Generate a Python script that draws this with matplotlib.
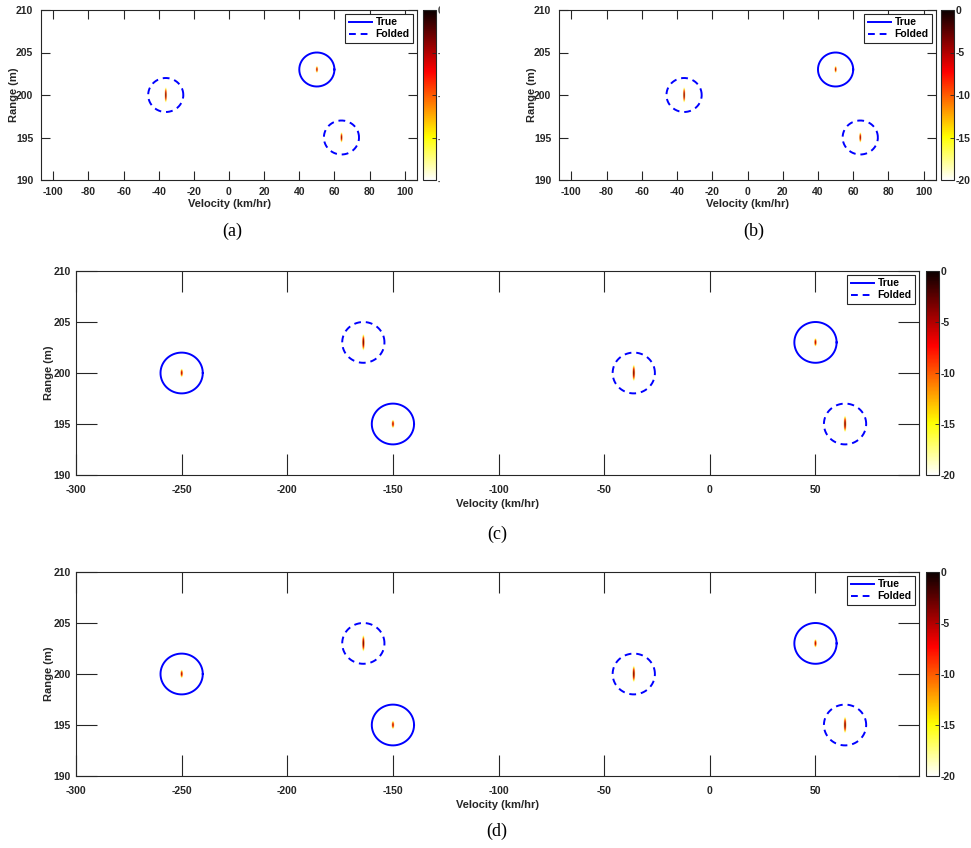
import numpy as np
import matplotlib
matplotlib.use('Agg')
import matplotlib.pyplot as plt
from matplotlib.lines import Line2D
from matplotlib.patches import Rectangle

plt.rcParams['font.family'] = ['Liberation Sans', 'DejaVu Sans']
plt.rcParams['axes.unicode_minus'] = False

# ---------------- data ----------------
# panels (a),(b)
true_v_ab = [50]
true_r_ab = [203]
true_pk_ab = [-4]
true_len_ab = [0.4]
fold_v_ab = [-36, 64]
fold_r_ab = [200, 195]
fold_pk_ab = [-2, -3]
fold_len_ab = [0.9, 0.6]

# panels (c),(d)
true_v_cd = [-250, -150, 50]
true_r_cd = [200, 195, 203]
true_pk_cd = [-4, -4, -4]
true_len_cd = [0.4, 0.4, 0.4]
fold_v_cd = [-164, -36, 64]
fold_r_cd = [203, 200, 195]
fold_pk_cd = [-2, -2, -2]
fold_len_cd = [0.8, 0.8, 0.8]

xticks_ab = [-100, -80, -60, -40, -20, 0, 20, 40, 60, 80, 100]
xticks_cd = [-300, -250, -200, -150, -100, -50, 0, 50]
yticks = [190, 195, 200, 205, 210]
cbar_ticks = [-20, -15, -10, -5, 0]
captions = ['(a)', '(b)', '(c)', '(d)']

W, H = 971, 848
fig = plt.figure(figsize=(W / 100, H / 100), dpi=100)
DARK = '#262626'


def px_rect(l, r, t, b):
    return [l / W, (H - b) / H, (r - l) / W, (b - t) / H]


def make_map(xlim, half_w, tv, tr, tp, tl, fv, fr, fp, fl):
    xs = np.arange(xlim[0], xlim[1], 0.08)
    ys = np.arange(190, 210, 0.02)
    X, Y = np.meshgrid(xs, ys)
    Z = np.full(X.shape, -40.0)
    for v, r, p, L in list(zip(tv, tr, tp, tl)) + list(zip(fv, fr, fp, fl)):
        d = ((X - v) / half_w) ** 2 + ((Y - r) / L) ** 2
        val = p - (p + 20) * d
        Z = np.maximum(Z, val)
    return xs, ys, Z


def ellipse(cx, cy, rx=10, ry=2):
    t = np.linspace(0, 2 * np.pi, 200)
    return cx + rx * np.cos(t), cy + ry * np.sin(t)


def panel(rect, crect, xlim, xticks, half_w, xpad, ypad, xlab_off,
          tv, tr, tp, tl, fv, fr, fp, fl):
    ax = fig.add_axes(px_rect(*rect))
    cax = fig.add_axes(px_rect(*crect))
    xs, ys, Z = make_map(xlim, half_w, tv, tr, tp, tl, fv, fr, fp, fl)
    im = ax.imshow(Z, extent=[xs[0], xs[-1], ys[0], ys[-1]], origin='lower',
                   aspect='auto', cmap='hot_r', vmin=-20, vmax=0,
                   interpolation='bilinear')
    for v, r in zip(tv, tr):
        ex, ey = ellipse(v, r)
        ax.plot(ex, ey, color='#0000ff', lw=1.4, ls='-')
    for v, r in zip(fv, fr):
        ex, ey = ellipse(v, r)
        ax.plot(ex, ey, color='#0000ff', lw=1.4, ls=(0, (3.5, 2.5)))
    ax.set_xlim(*xlim)
    ax.set_ylim(190, 210)
    ax.set_xticks(xticks)
    ax.set_yticks(yticks)
    wpx = rect[1] - rect[0]
    hpx = rect[3] - rect[2]
    L = 0.025 * max(wpx, hpx) * 0.72
    ax.tick_params(direction='in', length=L, width=0.8, color=DARK,
                   top=True, right=True, labelsize=7.5, labelcolor=DARK)
    ax.tick_params(axis='x', pad=xpad)
    ax.tick_params(axis='y', pad=ypad)
    for lab in ax.get_xticklabels() + ax.get_yticklabels():
        lab.set_fontweight('bold')
    for s in ax.spines.values():
        s.set_color(DARK)
        s.set_linewidth(0.8)
    ax.set_xlabel('Velocity (km/hr)', fontsize=8, fontweight='bold', color=DARK)
    ax.set_ylabel('Range (m)', fontsize=8, fontweight='bold', color=DARK)
    ax.xaxis.set_label_coords(0.5, -xlab_off / hpx)
    ax.yaxis.set_label_coords(-22 / wpx, 0.5)
    handles = [Line2D([], [], color='#0000ff', lw=1.4, ls='-'),
               Line2D([], [], color='#0000ff', lw=1.4, ls=(0, (3.5, 2.5)))]
    leg = ax.legend(handles, ['True', 'Folded'], loc='upper right',
                    prop={'size': 7.5, 'weight': 'bold'}, fancybox=False,
                    edgecolor=DARK, framealpha=1, borderaxespad=0.4,
                    handlelength=2.3, handletextpad=0.3, borderpad=0.3,
                    labelspacing=0.2)
    leg.get_frame().set_linewidth(0.8)
    cb = fig.colorbar(im, cax=cax, ticks=cbar_ticks)
    cb.outline.set_edgecolor(DARK)
    cb.outline.set_linewidth(0.8)
    cax.tick_params(direction='in', length=3, width=0.6, color=DARK,
                    labelsize=7.5, labelcolor=DARK, pad=1.5)
    for lab in cax.get_yticklabels():
        lab.set_fontweight('bold')
    return ax


panel((41, 417, 10, 180), (423, 436, 10, 180), (-107, 107), xticks_ab,
      0.6, 5, 5.5, 19,
      true_v_ab, true_r_ab, true_pk_ab, true_len_ab,
      fold_v_ab, fold_r_ab, fold_pk_ab, fold_len_ab)
# region between (a) and (b) where the colorbar labels of (a) are cut off
fig.patches.append(Rectangle((440 / W, (H - 195) / H), 40 / W, 195 / H,
                             transform=fig.transFigure, color='white', zorder=10))
panel((559, 936, 10, 180), (941, 954, 10, 180), (-107, 107), xticks_ab,
      0.6, 5, 5.5, 19,
      true_v_ab, true_r_ab, true_pk_ab, true_len_ab,
      fold_v_ab, fold_r_ab, fold_pk_ab, fold_len_ab)
panel((76, 919, 271, 475), (926, 939, 271, 475), (-300, 99), xticks_cd,
      0.6, 7, 3.6, 24,
      true_v_cd, true_r_cd, true_pk_cd, true_len_cd,
      fold_v_cd, fold_r_cd, fold_pk_cd, fold_len_cd)
panel((76, 919, 572, 776), (926, 939, 572, 776), (-300, 99), xticks_cd,
      0.6, 7, 3.6, 24,
      true_v_cd, true_r_cd, true_pk_cd, true_len_cd,
      fold_v_cd, fold_r_cd, fold_pk_cd, fold_len_cd)

cap_pos = [(232, 231), (754, 231), (497, 534), (497, 831)]
for c, (x, y) in zip(captions, cap_pos):
    fig.text(x / W, 1 - y / H, c, ha='center', va='center', fontsize=13,
             family=['Liberation Serif', 'DejaVu Serif'], zorder=11)

fig.savefig('out.png', dpi=100, facecolor='white')
